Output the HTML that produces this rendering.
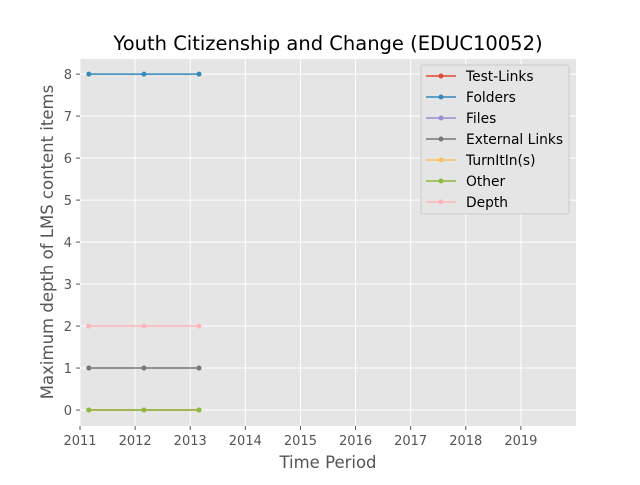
<!DOCTYPE html>
<html><head><meta charset="utf-8"><style>
body{margin:0;background:#fff;}
svg{font-family:"DejaVu Sans","Liberation Sans",sans-serif;}
</style></head><body>
<svg id="chart" width="640" height="480" xmlns="http://www.w3.org/2000/svg">
<rect width="640" height="480" fill="#fff"/>
<rect x="80" y="59" width="496" height="367" fill="#E5E5E5"/>
<g id="grid"></g><g id="ticks"></g><g id="series"></g>
<text x="328" y="50" text-anchor="middle" font-size="19.5" fill="#000">Youth Citizenship and Change (EDUC10052)</text>
<text x="328" y="468" text-anchor="middle" font-size="16.5" fill="#555">Time Period</text>
<text transform="translate(53,242) rotate(-90)" text-anchor="middle" font-size="16.5" fill="#555">Maximum depth of LMS content items</text>
<g id="legend"></g>
</svg>
<script>
const xTicks=[2011,2012,2013,2014,2015,2016,2017,2018,2019];
const yTicks=[0,1,2,3,4,5,6,7,8];
const periods=[2011.16,2012.16,2013.16];
const seriesNames=["Test-Links","Folders","Files","External Links","TurnItIn(s)","Other","Depth"];
const seriesColors=["#E24A33","#348ABD","#988ED5","#777777","#FBC15E","#8EBA42","#FFB5B8"];
const testLinks=[0,0,0];
const folders=[8,8,8];
const files=[0,0,0];
const externalLinks=[1,1,1];
const turnitin=[0,0,0];
const other=[0,0,0];
const depth=[2,2,2];
const allSeries=[testLinks,folders,files,externalLinks,turnitin,other,depth];
const NS="http://www.w3.org/2000/svg";
const X0=80,X1=576,Y0=426,Y1=59,xmin=2011,xmax=2020.0,ymin=-0.38,ymax=8.36;
const xs=v=>X0+(v-xmin)/(xmax-xmin)*(X1-X0);
const ys=v=>Y0-(v-ymin)/(ymax-ymin)*(Y0-Y1);
function mk(t,a,p){const e=document.createElementNS(NS,t);for(const k in a)e.setAttribute(k,a[k]);p.appendChild(e);return e;}
const grid=document.getElementById('grid'),ticks=document.getElementById('ticks');
xTicks.forEach(t=>{const x=xs(t);
 const g=mk('line',{x1:x,x2:x,y1:Y1,y2:Y0,stroke:'#fff','stroke-width':1},grid);
 
 
 mk('line',{x1:x,x2:x,y1:Y0,y2:Y0+4,stroke:'#555'},ticks);
 const l=mk('text',{x:x,y:Y0+19,'text-anchor':'middle','font-size':13,fill:'#555'},ticks);l.textContent=t;
 
 });
yTicks.forEach(t=>{const y=ys(t);
 const g=mk('line',{x1:X0,x2:X1,y1:y,y2:y,stroke:'#fff','stroke-width':1},grid);
 
 
 mk('line',{x1:X0-4,x2:X0,y1:y,y2:y,stroke:'#555'},ticks);
 const l=mk('text',{x:X0-8,y:y+5,'text-anchor':'end','font-size':13,fill:'#555'},ticks);l.textContent=t;
 
 });
const sg=document.getElementById('series');
allSeries.forEach((s,i)=>{const g=mk('g',{},sg);
 
 
 mk('polyline',{points:s.map((v,j)=>xs(periods[j])+','+ys(v)).join(' '),fill:'none',stroke:seriesColors[i],'stroke-width':1.5},g);
 s.forEach((v,j)=>{const c=mk('circle',{cx:xs(periods[j]),cy:ys(v),r:2.5,fill:seriesColors[i]},g);
  
  });});
const lg=document.getElementById('legend');
const box=mk('rect',{x:421,y:65,width:148,height:149,fill:'#E5E5E5',stroke:'#ccc','stroke-width':1,rx:2},lg);


seriesNames.forEach((n,i)=>{const y=76+i*21;const g=mk('g',{},lg);
 
 
 mk('line',{x1:426,x2:456,y1:y,y2:y,stroke:seriesColors[i],'stroke-width':1.5},g);
 mk('circle',{cx:441,cy:y,r:2.5,fill:seriesColors[i]},g);
 const t=mk('text',{x:466,y:y+5,'font-size':13.8,fill:'#000'},g);t.textContent=n;});
</script>
</body></html>
